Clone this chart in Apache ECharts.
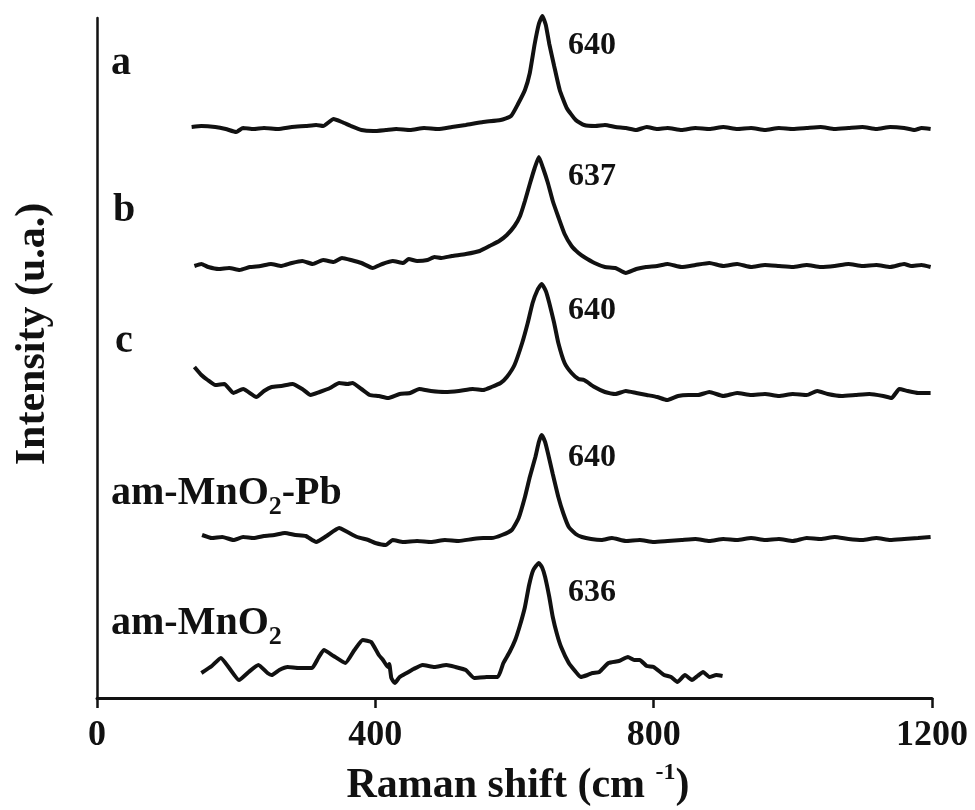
<!DOCTYPE html>
<html>
<head>
<meta charset="utf-8">
<script src="https://cdn.jsdelivr.net/npm/echarts@6/dist/echarts.min.js"></script>
<style>
html, body { margin: 0; padding: 0; background: #fff; }
#main { width: 975px; height: 810px; }
</style>
</head>
<body>
<div id="main"></div>
<script>
// Raman spectra (x: cm-1, y: intensity above own baseline)
var shiftA = [136,150,170,185,200,210,225,240,260,280,300,315,325,340,352,365,380,397,415,430,450,470,490,510,530,555,580,595,605,615,622,629,635,640,645,650,657,665,675,688,700,716,730,745,760,775,790,805,820,840,860,880,900,920,940,960,980,1000,1020,1040,1060,1080,1100,1120,1140,1160,1175,1185,1198];
var intA   = [1,2,1,-1,-4,0,-1,0,-1,1,2,3,2,9,6,2,-2,-3,-2,-1,-2,0,-1,1,3,6,8,12,24,38,55,84,104,112,103,84,62,38,20,8,3,2,3,1,0,-2,1,-1,0,-2,0,-1,1,-1,0,-2,0,-1,0,1,-1,0,1,-1,1,0,-2,0,-1];

var shiftB = [140,150,160,175,190,205,220,235,250,265,280,295,310,325,340,352,365,380,396,410,425,440,448,460,475,485,495,510,530,550,567,578,589,600,608,615,622,629,635,641,648,655,663,672,682,692,700,715,730,745,760,775,789,805,820,840,860,880,900,920,940,960,980,1000,1020,1040,1060,1080,1100,1120,1140,1160,1170,1185,1198];
var intB   = [0,2,-1,-3,-2,-4,-1,0,2,0,3,5,2,6,4,8,6,3,-2,2,5,3,7,5,6,9,8,10,12,15,21,25,31,40,50,65,82,98,109,98,83,65,49,32,20,13,9,3,-1,-2,-7,-3,-1,0,2,-1,1,3,0,2,-1,1,0,-1,1,-1,0,2,0,1,-1,2,0,1,-1];

var shiftC = [140,150,159,170,183,196,210,229,240,251,265,281,295,307,320,335,348,360,367,380,392,405,418,435,450,463,480,500,520,540,555,567,580,589,600,611,619,626,633,639,645,650,657,663,672,682,692,700,715,730,745,760,775,790,805,819,835,850,864,880,900,920,940,960,980,1000,1020,1035,1050,1070,1090,1110,1130,1142,1153,1165,1180,1198];
var intC   = [28,20,15,10,11,2,6,-2,4,8,9,11,6,0,3,7,12,11,12,6,0,-1,-3,1,2,6,4,3,4,6,5,8,12,18,30,52,72,92,105,111,104,92,72,52,32,22,16,15,8,3,1,4,2,0,-2,-5,-1,0,0,3,-1,2,0,1,-1,1,0,4,1,-1,0,1,-1,-3,6,4,2,2];

var shiftPb = [151,165,180,196,210,225,240,255,270,285,300,315,330,348,360,374,390,400,415,425,440,460,480,500,520,540,555,567,582,596,606,615,622,630,635,639,644,648,655,663,670,678,688,697,710,725,740,760,780,800,820,840,860,880,900,920,940,960,980,1000,1020,1040,1060,1080,1100,1120,1140,1160,1180,1198];
var intPb   = [5,2,3,0,3,2,4,5,7,5,4,-2,4,12,8,3,0,-3,-5,0,-2,-1,-2,0,-1,1,2,2,5,10,22,43,63,83,98,105,98,87,66,43,27,13,6,3,1,0,2,-1,0,-2,-1,0,1,-1,1,0,2,0,1,-1,2,1,3,1,0,2,0,1,2,3];

var shiftAm = [150,165,178,190,204,218,232,245,251,262,274,290,309,318,326,340,357,370,382,394,405,411,418,420,423,428,435,445,455,468,485,502,515,530,542,560,576,584,593,601,608,615,621,627,635,640,644,650,655,661,667,678,687,695,705,712,722,735,750,763,772,780,790,800,815,825,834,845,855,863,871,880,890,899];
var intAm   = [7,14,22,12,0,8,15,7,5,10,13,12,12,22,30,24,17,30,40,38,25,20,13,16,2,-3,3,7,11,15,13,15,13,10,2,3,3,17,28,40,55,73,95,110,117,112,103,83,63,46,33,17,9,3,5,7,8,17,19,23,20,20,14,13,5,3,-2,5,0,4,8,3,5,4];

// vertical offset of each trace (stacked display)
var baselines = [570, 432, 303, 158, 18];
var peakLabels = ['640', '637', '640', '640', '636'];

var spectra = [[shiftA, intA], [shiftB, intB], [shiftC, intC], [shiftPb, intPb], [shiftAm, intAm]];

var serif = '"Liberation Serif", "Times New Roman", serif';
var ink = '#111';

var chart = echarts.init(document.getElementById('main'));

var series = spectra.map(function (s, i) {
    return {
        type: 'line',
        data: s[0].map(function (x, j) { return [x, s[1][j] + baselines[i]]; }),
        symbol: 'none',
        smooth: 0.15,
        clip: false,
        silent: true,
        lineStyle: { color: ink, width: 4 }
    };
});

function txt(x, y, text, size, extra) {
    var st = {
        text: text,
        x: x, y: y,
        fill: ink,
        fontFamily: serif,
        fontWeight: 'bold',
        fontSize: size,
        align: 'left',
        verticalAlign: 'middle'
    };
    for (var k in extra) st[k] = extra[k];
    return { type: 'text', style: st, silent: true };
}

var main = { fontSize: 40, fontWeight: 'bold', fontFamily: serif, fill: ink, lineHeight: 52 };
var sub = { fontSize: 26, fontWeight: 'bold', fontFamily: serif, fill: ink, lineHeight: 26, verticalAlign: 'bottom' };
var sup = { fontSize: 24, fontWeight: 'bold', fontFamily: serif, fill: ink, lineHeight: 24, verticalAlign: 'top' };

var graphics = [
    txt(111, 64, 'a', 40),
    txt(113, 211, 'b', 40),
    txt(115, 342, 'c', 40),
    txt(111, 494, '{m|am-MnO}{s|2}{m|-Pb}', 40, { rich: { m: main, s: sub } }),
    txt(111, 624, '{m|am-MnO}{s|2}', 40, { rich: { m: main, s: sub } }),
    // y axis title
    {
        type: 'text', silent: true, x: 33, y: 334, rotation: Math.PI / 2,
        style: { text: 'Intensity (u.a.)', fill: ink, fontFamily: serif, fontWeight: 'bold', fontSize: 42, align: 'center', verticalAlign: 'middle' }
    },
    // x axis title
    txt(518, 786, '{m|Raman shift (cm }{p|-1}{m|)}', 42, { align: 'center', rich: { m: { fontSize: 42, fontWeight: 'bold', fontFamily: serif, fill: ink, lineHeight: 50 }, p: sup } })
];
var peakY = [46, 177, 311, 458, 593];
peakLabels.forEach(function (t, i) {
    graphics.push(txt(568, peakY[i], t, 32));
});

var option = {
    animation: false,
    backgroundColor: '#fff',
    grid: { left: 97, right: 43, top: 18, bottom: 112 },
    xAxis: {
        type: 'value',
        min: 0, max: 1200, interval: 400,
        axisLine: { lineStyle: { color: ink, width: 3 } },
        axisTick: { inside: false, length: 10, lineStyle: { color: ink, width: 2.5 } },
        axisLabel: {
            color: ink, fontFamily: serif, fontWeight: 'bold', fontSize: 36, margin: 20,
            formatter: function (v) { return String(v); }
        },
        splitLine: { show: false }
    },
    yAxis: {
        type: 'value',
        min: 0, max: 680,
        axisLine: { show: true, lineStyle: { color: ink, width: 2.5 } },
        axisTick: { show: false },
        axisLabel: { show: false },
        splitLine: { show: false }
    },
    series: series,
    graphic: graphics
};

chart.setOption(option);
</script>
</body>
</html>
